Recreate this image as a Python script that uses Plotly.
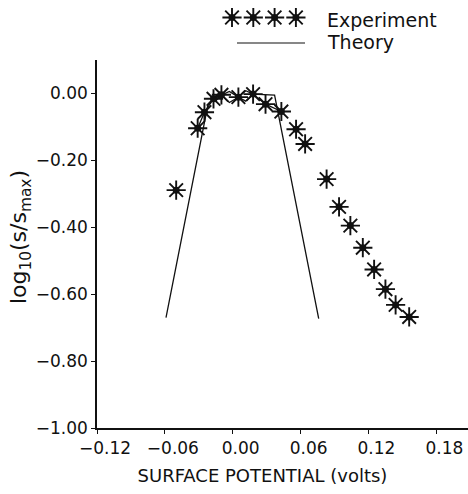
import plotly.graph_objects as go

# Experimental data (surface potential in volts, log10(s/smax))
exp_x = [-0.050, -0.031, -0.025, -0.017, -0.010, 0.005, 0.018, 0.029, 0.043, 0.056,
         0.064, 0.083, 0.094, 0.104, 0.115, 0.125, 0.135, 0.144, 0.156]
exp_y = [-0.289, -0.104, -0.056, -0.016, -0.004, -0.011, -0.002, -0.032, -0.054, -0.107,
         -0.151, -0.256, -0.339, -0.395, -0.461, -0.526, -0.585, -0.632, -0.668]

# Theory curve (two strokes, separated by None)
theory_x = [-0.059, -0.022, -0.017, -0.010, -0.003, 0.005, 0.0115, 0.018, 0.037, 0.076,
            None, -0.031, -0.025, -0.017, -0.010, -0.003, 0.005, 0.0115, 0.018, 0.029, 0.043]
theory_y = [-0.670, -0.035, -0.016, -0.004, 0.006, -0.011, 0.008, -0.002, -0.005, -0.673,
            None, -0.104, -0.056, -0.016, -0.004, -0.027, -0.011, -0.023, -0.002, -0.032, -0.054]

x_ticks = [-0.12, -0.06, 0.00, 0.06, 0.12, 0.18]
y_ticks = [0.00, -0.20, -0.40, -0.60, -0.80, -1.00]

FONT = "DejaVu Sans"
INK = "#111111"
STAR = dict(symbol="asterisk-open", size=16, color=INK, line=dict(color=INK, width=1.9))
DOT = dict(symbol="circle", size=7, color=INK)

W, H = 468, 494
L, B = 97, 66
PLOT_TOP = 60                      # top of the data panel, px from figure top
main_frac = (H - B - PLOT_TOP) / (H - B)

fig = go.Figure()
fig.add_trace(go.Scatter(x=theory_x, y=theory_y, mode="lines", name="Theory",
                         line=dict(color=INK, width=1.3), showlegend=False))
fig.add_trace(go.Scatter(x=exp_x, y=exp_y, mode="markers", name="Experiment",
                         marker=STAR, showlegend=False))
fig.add_trace(go.Scatter(x=exp_x, y=exp_y, mode="markers", hoverinfo="skip",
                         marker=DOT, showlegend=False))

# Key (legend) panel above the data panel: axis units are pixels
key_star_x = [L + 135 + 21.3 * i for i in range(4)]
key_star_y = [17.5] * 4
fig.add_trace(go.Scatter(x=key_star_x, y=key_star_y, mode="markers", xaxis="x2", yaxis="y2",
                         marker=STAR, hoverinfo="skip", showlegend=False, cliponaxis=False))
fig.add_trace(go.Scatter(x=key_star_x, y=key_star_y, mode="markers", xaxis="x2", yaxis="y2",
                         marker=DOT, hoverinfo="skip", showlegend=False, cliponaxis=False))
fig.add_trace(go.Scatter(x=[L + 140, L + 208], y=[43, 43], mode="lines", xaxis="x2", yaxis="y2",
                         line=dict(color=INK, width=1.2), hoverinfo="skip", showlegend=False))
fig.add_annotation(xref="x2", yref="y2", x=L + 228, y=20, text="Experiment",
                   showarrow=False, font=dict(family=FONT, size=19, color=INK),
                   xanchor="left", yanchor="middle")
fig.add_annotation(xref="x2", yref="y2", x=L + 228, y=42, text="Theory",
                   showarrow=False, font=dict(family=FONT, size=19, color=INK),
                   xanchor="left", yanchor="middle")

axis_common = dict(showline=True, linecolor=INK, linewidth=1.5, ticks="outside",
                   ticklen=4, tickwidth=1.2, tickcolor=INK, showgrid=False,
                   zeroline=False, automargin=False,
                   tickfont=dict(family=FONT, size=17, color=INK))

fig.update_layout(
    xaxis=dict(range=[-0.12, 0.208], tickvals=x_ticks,
               ticktext=[f"{v:.2f}".replace("-", "\u2212") for v in x_ticks],
               ticklabelshift=8,
               title=dict(text="SURFACE POTENTIAL (volts)" + "&nbsp;" * 7,
                          font=dict(family=FONT, size=18, color=INK), standoff=12),
               **axis_common),
    yaxis=dict(range=[-1.0, 0.1], domain=[0, main_frac], tickvals=y_ticks,
               ticktext=[f"{v:.2f}".replace("-", "\u2212") for v in y_ticks],
               title=dict(text="&nbsp;&nbsp;log<sub>10</sub>(s/s<sub>max</sub>)",
                          font=dict(family=FONT, size=22, color=INK), standoff=3),
               **axis_common),
    xaxis2=dict(range=[L, W], domain=[0, 1], anchor="y2", visible=False, fixedrange=True),
    yaxis2=dict(range=[PLOT_TOP, 0], domain=[main_frac, 1], anchor="x2", visible=False,
                fixedrange=True),
    width=W, height=H, margin=dict(l=L, r=0, t=0, b=B),
    plot_bgcolor="white", paper_bgcolor="white",
    font=dict(family=FONT, color=INK),
)

# remove the default 8px page margin so the figure fills the window exactly
fig.write_html("out.html", config={"displayModeBar": False},
               post_script="document.body.style.margin='0';"
                           "document.body.style.overflow='hidden';")
